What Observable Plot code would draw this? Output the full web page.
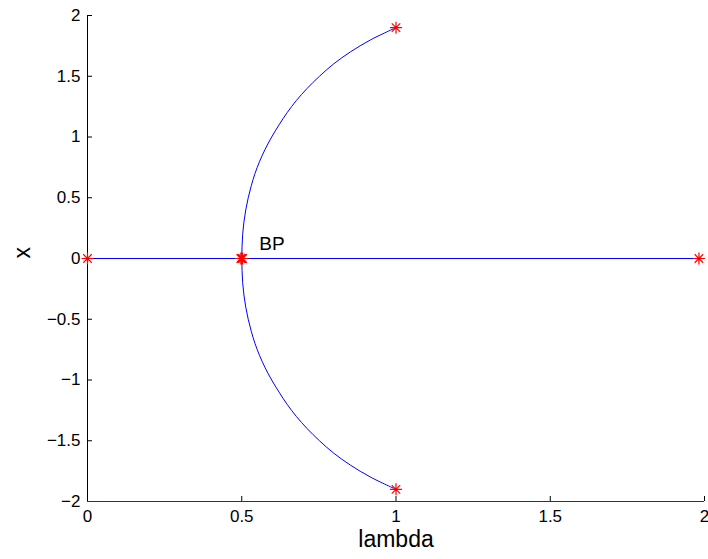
<!DOCTYPE html>
<html>
<head>
<meta charset="utf-8">
<script src="https://cdn.jsdelivr.net/npm/d3@7"></script>
<script src="https://cdn.jsdelivr.net/npm/@observablehq/plot@0.6"></script>
<style>
  html, body { margin: 0; padding: 0; background: #fff; }
  #chart { width: 708px; height: 559px; }
</style>
</head>
<body>
<div id="chart"></div>
<script>
// Non-trivial (pitchfork) branch
const branchLambda = [1.0, 0.918, 0.852, 0.797, 0.752, 0.712, 0.677, 0.647, 0.621, 0.597, 0.576, 0.558, 0.543, 0.531, 0.521, 0.513, 0.507, 0.503, 0.501, 0.5,
                      0.501, 0.503, 0.507, 0.513, 0.521, 0.531, 0.543, 0.558, 0.576, 0.597, 0.621, 0.647, 0.677, 0.712, 0.752, 0.797, 0.852, 0.918, 1.0];
const branchX = [-1.9, -1.8, -1.7, -1.6, -1.5, -1.4, -1.3, -1.2, -1.1, -1.0, -0.9, -0.8, -0.7, -0.6, -0.5, -0.4, -0.3, -0.2, -0.1, 0,
                 0.1, 0.2, 0.3, 0.4, 0.5, 0.6, 0.7, 0.8, 0.9, 1.0, 1.1, 1.2, 1.3, 1.4, 1.5, 1.6, 1.7, 1.8, 1.9];
// Trivial branch x = 0
const trivialLambda = [0, 1.982];
const trivialX = [0, 0];
// Special points (asterisks)
const starLambda = [0, 0.497, 0.5, 0.503, 1.982, 1, 1];
const starX = [0, 0, 0, 0, 0, 1.9, -1.9];
// Label
const bpLabel = {lambda: 0.557, x: 0.123, text: "BP"};
// Tick values
const xTicks = [0, 0.5, 1, 1.5, 2];
const yTicks = [-2, -1.5, -1, -0.5, 0, 0.5, 1, 1.5, 2];

const branch = branchLambda.map((l, i) => ({lambda: l, x: branchX[i]}));
const trivial = trivialLambda.map((l, i) => ({lambda: l, x: trivialX[i]}));
const stars = starLambda.map((l, i) => ({lambda: l, x: starX[i]}));

// MATLAB-style 8-armed asterisk
const star8 = {
  draw(context, size) {
    const r = Math.sqrt(size / Math.PI);
    const d = r * Math.SQRT1_2;
    context.moveTo(-r, 0); context.lineTo(r, 0);
    context.moveTo(0, -r); context.lineTo(0, r);
    context.moveTo(-d, -d); context.lineTo(d, d);
    context.moveTo(-d, d); context.lineTo(d, -d);
  }
};

const fmt = d => (d < 0 ? "\u2212" : "") + String(Math.abs(d));

const W = 708, H = 559, ML = 87, MR = 4, MT = 15, MB = 58;
const frameW = W - ML - MR, frameH = H - MT - MB, tickLen = 5;

const chart = Plot.plot({
  width: W,
  height: H,
  marginLeft: ML,
  marginRight: MR,
  marginTop: MT,
  marginBottom: MB,
  style: {fontFamily: "'Liberation Sans', Arial, sans-serif", fontSize: "17px", background: "#fff", color: "#000", overflow: "visible"},
  x: {domain: [0, 2]},
  y: {domain: [-2, 2]},
  marks: [
    Plot.axisX({ticks: xTicks, tickSize: 0, tickPadding: 8, tickFormat: fmt, fontSize: 17, label: null}),
    Plot.axisY({ticks: yTicks, tickSize: 0, tickPadding: 7, tickFormat: fmt, fontSize: 17, label: null}),
    Plot.tickX(xTicks, {x: d => d, insetTop: frameH - tickLen, stroke: "#000"}),
    Plot.tickY(yTicks, {y: d => d, insetRight: frameW - tickLen, stroke: "#000"}),
    Plot.ruleX([0], {stroke: "#000"}),
    Plot.ruleY([-2], {stroke: "#333"}),
    Plot.line(trivial, {x: "lambda", y: "x", stroke: "#0000ff", strokeWidth: 1}),
    Plot.line(branch, {x: "lambda", y: "x", stroke: "#0000ff", strokeWidth: 1, curve: "catmull-rom"}),
    Plot.dot(stars, {x: "lambda", y: "x", symbol: star8, r: 6, stroke: "#ff0000", strokeWidth: 1.2}),
    Plot.text([bpLabel], {x: "lambda", y: "x", text: "text", textAnchor: "start", fontSize: 19, fill: "#000"}),
    Plot.text(["lambda"], {frameAnchor: "bottom", dy: 45, fontSize: 23, fill: "#000"}),
    Plot.text(["x"], {frameAnchor: "left", dx: -65, rotate: -90, fontSize: 23, fill: "#000"})
  ]
});
document.getElementById("chart").appendChild(chart);
</script>
</body>
</html>
